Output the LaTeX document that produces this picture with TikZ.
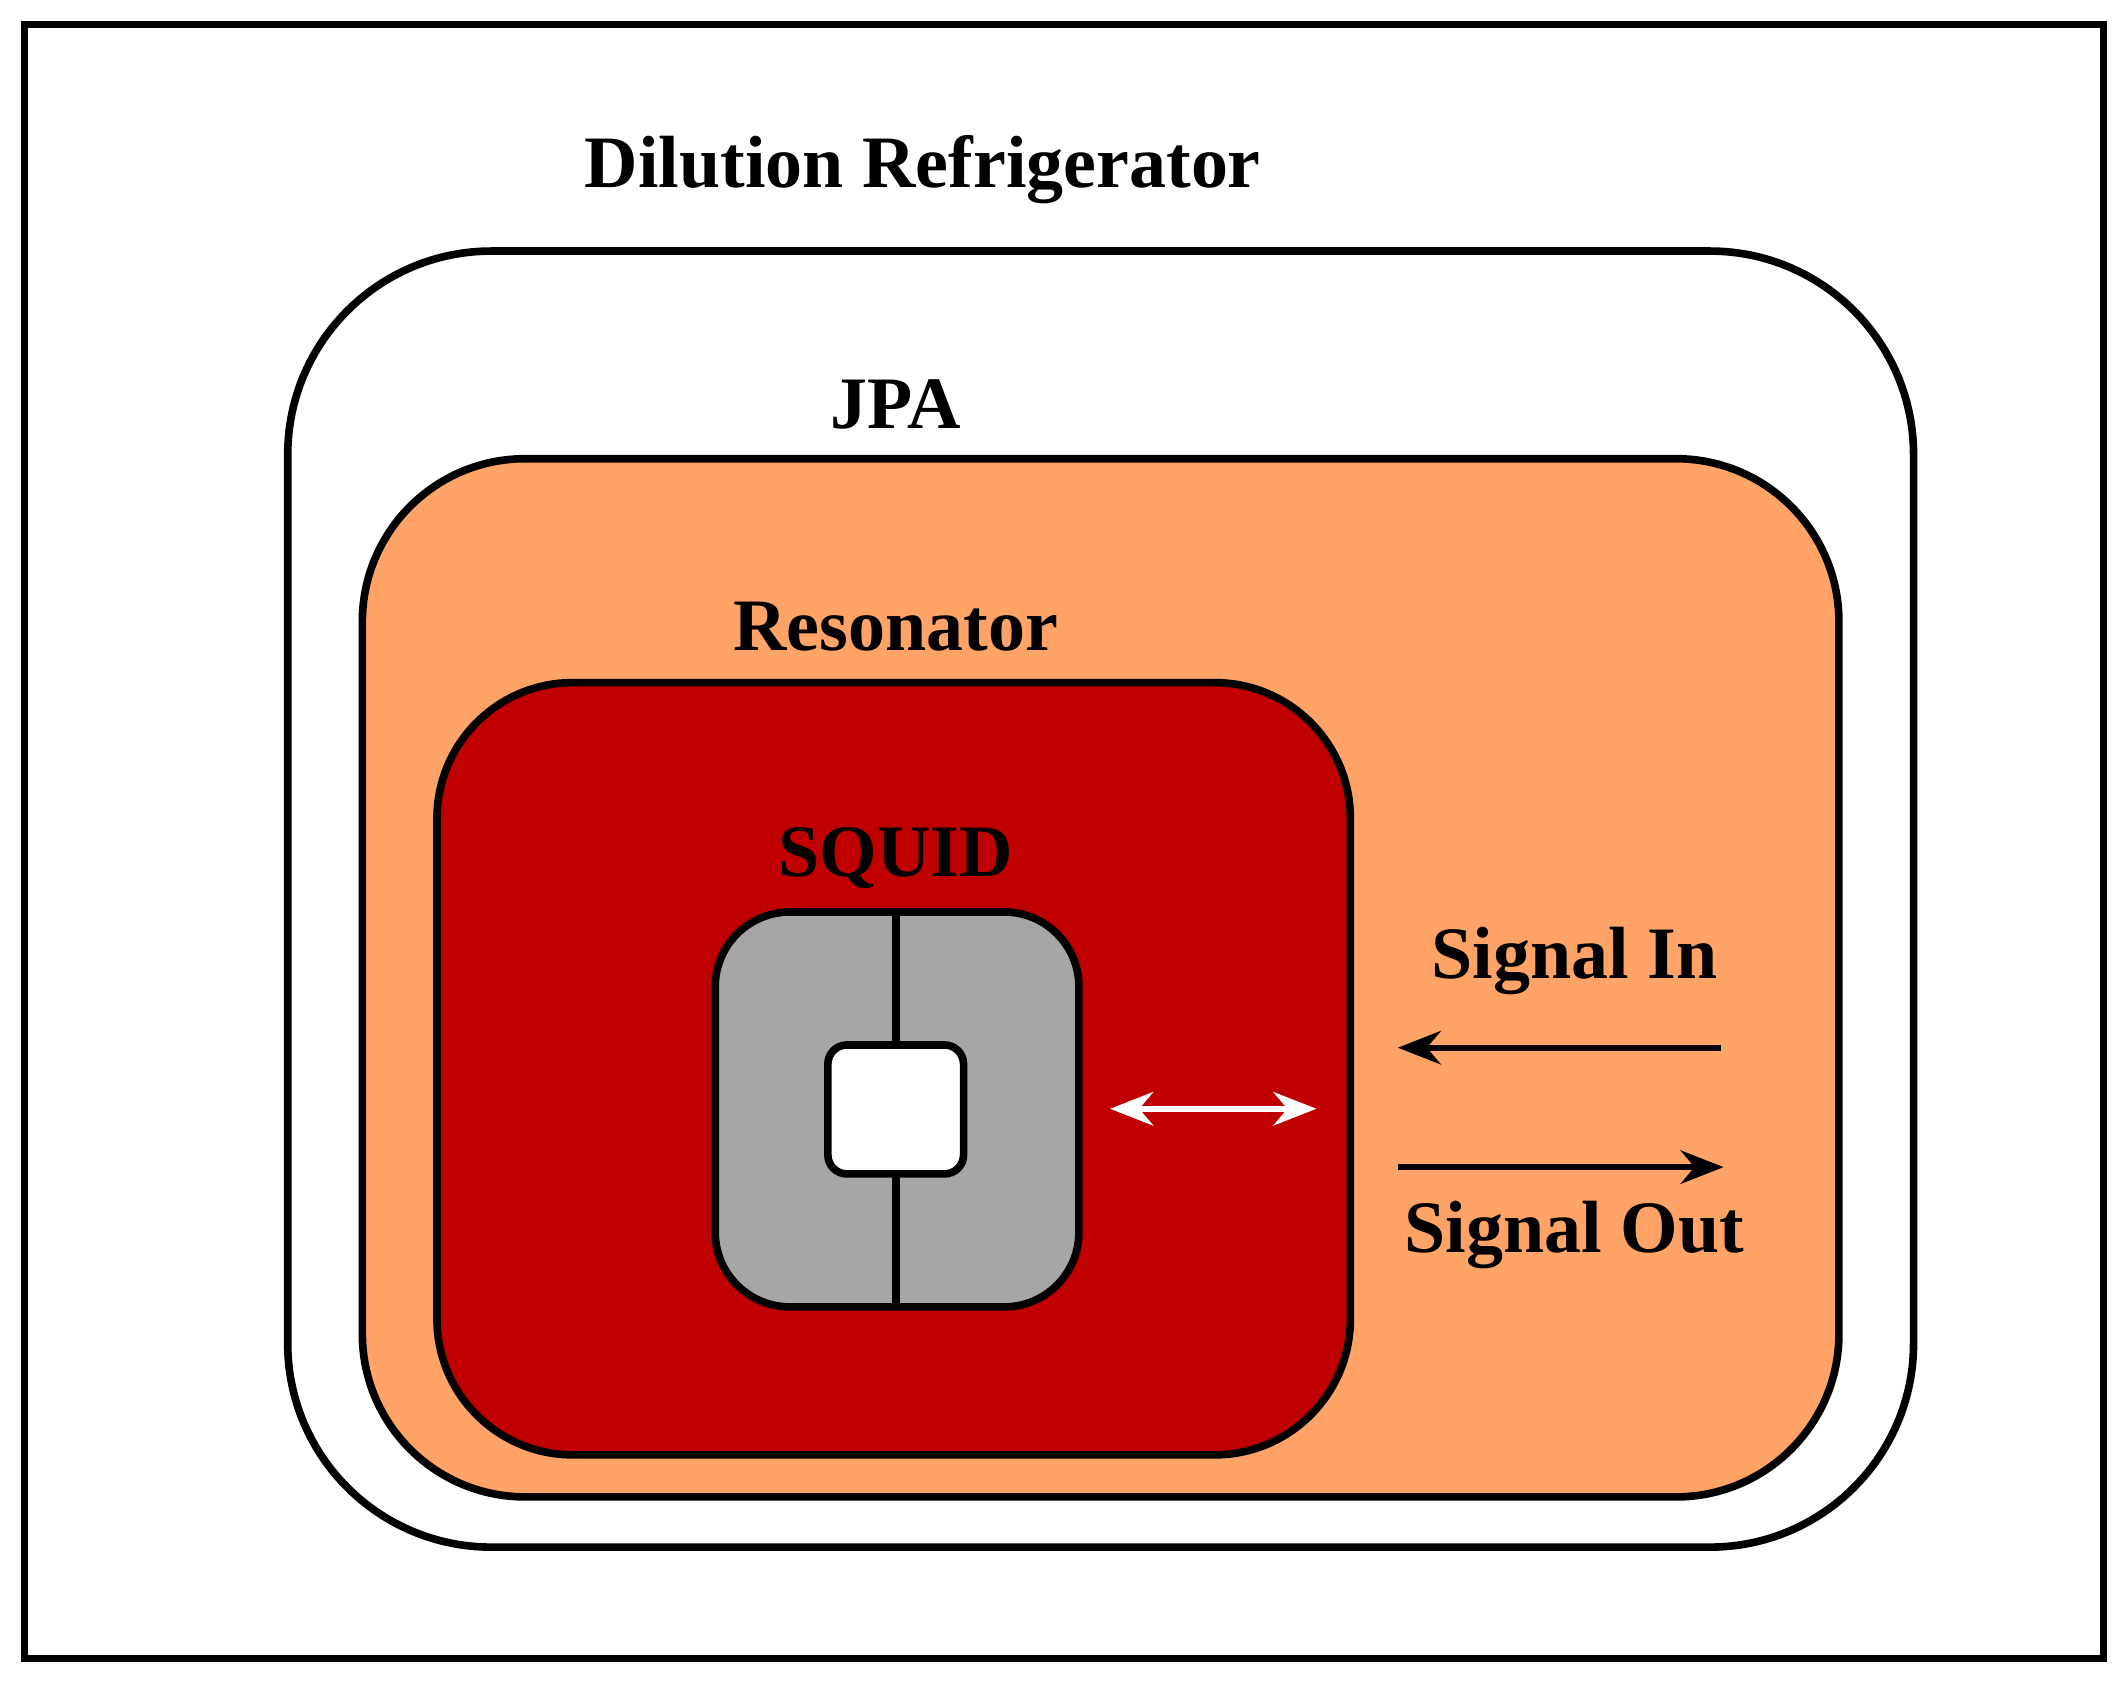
\documentclass[tikz,border=0pt]{standalone}
\usepackage{fontspec}
\setmainfont{Liberation Serif}
\usetikzlibrary{arrows.meta}
\begin{document}
\begin{tikzpicture}[x=0.01cm,y=-0.01cm,
  box/.style={draw=black,line width=1.6pt},
  lbl/.style={font=\bfseries\fontsize{15.5}{18}\selectfont},
  sig/.style={line width=1.3pt,-{Stealth[length=9pt,width=7pt]}}]
\useasboundingbox (0,0) rectangle (1568,1240);
\draw[line width=1.6pt] (18,18) rectangle (1550,1222);
\node[lbl] (dr) at (680,125) {Dilution Refrigerator};
\draw[box,fill=white,rounded corners=1.5cm] (212,185) rectangle (1410,1140);
\node[lbl] (jpa) at (660,298) {JPA};
\draw[box,fill={rgb,255:red,255;green,163;blue,102},rounded corners=1.2cm] (267,338) rectangle (1355,1103);
\node[lbl] (res) at (660,462) {Resonator};
\draw[box,fill={rgb,255:red,192;green,0;blue,0},rounded corners=1.0cm] (322,503) rectangle (995,1072);
\node[lbl] (sq) at (660,632) {SQUID};
\draw[box,fill={rgb,255:red,166;green,166;blue,166},rounded corners=0.55cm] (527,672) rectangle (795,963);
\draw[line width=1.6pt] (660,672) -- (660,963);
\draw[box,fill=white,rounded corners=0.14cm] (610,770) rectangle (710,865);
\coordinate (da) at (818,817); \coordinate (db) at (970,817);
\draw[white,line width=1.3pt,{Stealth[length=9pt,width=7pt]}-{Stealth[length=9pt,width=7pt]}] (da) -- (db);
\node[lbl] (si) at (1160,708) {Signal In};
\coordinate (a1) at (1268,772); \coordinate (a2) at (1030,772);
\draw[sig] (a1) -- (a2);
\coordinate (b1) at (1030,860); \coordinate (b2) at (1270,860);
\draw[sig] (b1) -- (b2);
\node[lbl] (so) at (1160,910) {Signal Out};
\end{tikzpicture}
\end{document}
